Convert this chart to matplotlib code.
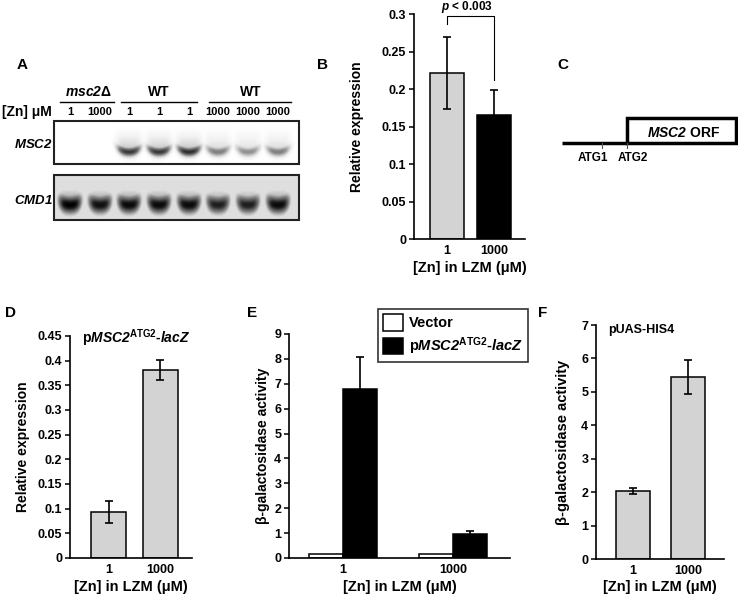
import numpy as np
import matplotlib
matplotlib.use("Agg")
import matplotlib.pyplot as plt
from matplotlib.patches import Rectangle, Patch
from matplotlib.ticker import FuncFormatter

plt.rcParams['font.family'] = ['Liberation Sans', 'DejaVu Sans']
plt.rcParams['font.weight'] = 'bold'
plt.rcParams['axes.labelweight'] = 'bold'
plt.rcParams['mathtext.fontset'] = 'custom'
plt.rcParams['mathtext.rm'] = 'Liberation Sans:bold'
plt.rcParams['mathtext.it'] = 'Liberation Sans:italic:bold'
plt.rcParams['mathtext.bf'] = 'Liberation Sans:bold'
# \mathsf used as bold italic that keeps digits italic too
plt.rcParams['mathtext.sf'] = 'Liberation Sans:italic:bold'

# ---- data ----
# panel A (northern blot), band intensity per lane (0..1)
lane_zn = ['1', '1000', '1', '1', '1', '1000', '1000', '1000']
msc2_band = [0.0, 0.0, 0.82, 0.82, 0.85, 0.58, 0.52, 0.58]
cmd1_band = [1.0, 0.95, 0.97, 0.97, 0.97, 0.9, 0.9, 0.97]

# panel B
b_labels = ['1', '1000']
b_vals = [0.221, 0.165]
b_err = [0.048, 0.034]

# panel D
d_labels = ['1', '1000']
d_vals = [0.093, 0.381]
d_err = [0.022, 0.021]

# panel E
e_labels = ['1', '1000']
e_vector = [0.15, 0.15]
e_lacz = [6.78, 0.97]
e_lacz_err = [1.29, 0.10]

# panel F
f_labels = ['1', '1000']
f_vals = [2.03, 5.45]
f_err = [0.10, 0.50]

W, H = 738, 596
fig = plt.figure(figsize=(W / 100, H / 100), dpi=100)

def add_ax(x0, y0, x1, y1):
    return fig.add_axes([x0 / W, 1 - y1 / H, (x1 - x0) / W, (y1 - y0) / H])

def fxy(x, y):
    return x / W, 1 - y / H

# overlay axes in pixel coords for blot, diagram, panel letters
ov = fig.add_axes([0, 0, 1, 1])
ov.set_facecolor('none')
ov.axis('off')

# ---- panel A ----
lane_x = [70, 100, 129, 159, 189, 218, 248, 278]
gx0, gx1 = 54, 299

def blot(signal, y0, y1, core, sig, smear_top, smear_amp, bg):
    xs = np.arange(gx0, gx1) + 0.5
    ys = np.arange(y0, y1) + 0.5
    X, Y = np.meshgrid(xs, ys)
    img = np.full(X.shape, bg)
    for c, s in zip(lane_x, signal):
        if s <= 0:
            continue
        hx = np.exp(-((X - c) / 12.5) ** 4)
        smile = 0.03 * (X - c) ** 2
        yc = core - smile
        v = np.exp(-((Y - yc) / sig) ** 2)
        sm = smear_amp * np.clip((Y - smear_top) / (yc - smear_top), 0, 1) ** 1.5
        v = np.maximum(v, np.where(Y < yc, sm, 0))
        img = np.maximum(img, s * hx * v)
    return img

msc2_img = blot(msc2_band, 121, 164, 152, 5.0, 125, 0.5, 0.0)
cmd1_img = blot(cmd1_band, 175, 220, 205, 10.0, 177, 0.75, 0.22)
ov.imshow(msc2_img, cmap='Greys', vmin=0, vmax=1, extent=(gx0, gx1, 164, 121),
          interpolation='bilinear', aspect='auto')
ov.imshow(cmd1_img, cmap='Greys', vmin=0, vmax=1, extent=(gx0, gx1, 220, 175),
          interpolation='bilinear', aspect='auto')
ov.add_patch(Rectangle((gx0, 121), gx1 - gx0, 43, fill=False, lw=1.5, ec='#222222'))
ov.add_patch(Rectangle((gx0, 175), gx1 - gx0, 45, fill=False, lw=1.5, ec='#222222'))
ov.set_xlim(0, W)
ov.set_ylim(H, 0)

for x, lab in zip(lane_x, lane_zn):
    ov.text(x, 112, lab, ha='center', va='center', fontsize=8)
ov.text(27, 112, '[Zn] μM', ha='center', va='center', fontsize=10)
ov.text(88, 92, r'$\mathsf{msc2}$Δ', ha='center', va='center', fontsize=10)
ov.text(159, 92, 'WT', ha='center', va='center', fontsize=10)
ov.text(251, 92, 'WT', ha='center', va='center', fontsize=10)
for a, b in [(60, 114), (121, 197), (209, 291)]:
    ov.plot([a, b], [102, 102], color='black', lw=1)
ov.text(33, 144, r'$\mathsf{MSC2}$', ha='center', va='center', fontsize=9.5)
ov.text(33, 200, r'$\mathsf{CMD1}$', ha='center', va='center', fontsize=9.5)

# ---- panel C ----
ov.plot([562, 627], [143, 143], color='black', lw=2.5, solid_capstyle='butt')
ov.add_patch(Rectangle((627, 117.5), 109, 25.5, fill=False, lw=2.5, ec='black'))
ov.plot([602, 602], [143, 148], color='#555555', lw=0.8)
ov.plot([627, 627], [143, 148], color='#555555', lw=0.8)
ov.text(593, 158, 'ATG1', ha='center', va='center', fontsize=8.5)
ov.text(633, 158, 'ATG2', ha='center', va='center', fontsize=8.5)
ov.text(684, 133, r'$\mathsf{MSC2}$ ORF', ha='center', va='center', fontsize=10)

# panel letters
for lab, x, y in [('A', 22, 65), ('B', 323, 65), ('C', 563, 65),
                  ('D', 10, 313), ('E', 252, 313), ('F', 543, 313)]:
    ov.text(x, y, lab, ha='center', va='center', fontsize=11)

def style(ax, ymax, ystep, ylab_x, ylab, ylab_size, xlab_y, xlab):
    for s in ['top', 'right']:
        ax.spines[s].set_visible(False)
    for s in ['left', 'bottom']:
        ax.spines[s].set_linewidth(1.2)
    ax.set_ylim(0, ymax)
    ax.set_yticks(np.arange(0, ymax + ystep / 2, ystep))
    ax.yaxis.set_major_formatter(FuncFormatter(lambda v, p: '%g' % round(v, 3)))
    ax.tick_params(axis='y', labelsize=9, width=1.1, length=3.5, pad=2)
    ax.tick_params(axis='x', labelsize=9, length=0, pad=4)
    pos = ax.get_position()
    ax.set_ylabel(ylab, fontsize=ylab_size, va='center')
    ax.yaxis.set_label_coords(ylab_x / W, pos.y0 + pos.height / 2,
                              transform=fig.transFigure)
    ax.set_xlabel(xlab, fontsize=10.5, va='center')
    ax.xaxis.set_label_coords(pos.x0 + pos.width / 2, 1 - xlab_y / H,
                              transform=fig.transFigure)

ekw = dict(ecolor='black', elinewidth=1.2, capsize=3, capthick=1.2)
xlab = '[Zn] in LZM (μM)'
lacz = r'p$\mathsf{MSC2}^{\mathrm{ATG2}}$-$\mathsf{lacZ}$'

# ---- panel B ----
axb = add_ax(414, 14, 525, 239)
xb = np.arange(len(b_vals))
axb.bar(xb, b_vals, width=0.72, color=['#d3d3d3', 'black'], edgecolor='black',
        lw=1.1, yerr=b_err, error_kw=ekw)
axb.set_xlim(-0.70, 1.66)
axb.set_xticks(xb, b_labels)
style(axb, 0.3, 0.05, 357, 'Relative expression', 10, 268, xlab)
axb.plot([0, 0, 1, 1], [0.287, 0.298, 0.298, 0.212], color='black', lw=0.8,
         clip_on=False)
axb.text(0.43, 0.310, r'$\mathsf{p}$ < 0.003', ha='center', va='center',
         fontsize=8.5, clip_on=False)

# ---- panel D ----
axd = add_ax(70, 336, 192, 558)
xd = np.arange(len(d_vals))
axd.bar(xd, d_vals, width=0.67, color='#d3d3d3', edgecolor='black', lw=1.1,
        yerr=d_err, error_kw=ekw)
axd.set_xlim(-0.745, 1.61)
axd.set_xticks(xd, d_labels)
style(axd, 0.45, 0.05, 23, 'Relative expression', 10, 587, xlab)
axd.text(*fxy(82, 338), lacz, transform=fig.transFigure,
         ha='left', va='center', fontsize=10)

# ---- panel E ----
axe = add_ax(289, 334, 510, 558)
xe = np.arange(len(e_lacz))
bw = 0.309
axe.bar(xe - bw / 2, e_vector, width=bw, color='white', edgecolor='black', lw=1.1)
axe.bar(xe + bw / 2, e_lacz, width=bw, color='black', edgecolor='black', lw=1.1,
        yerr=e_lacz_err, error_kw=ekw)
axe.set_xlim(-0.49, 1.52)
axe.set_xticks(xe, e_labels)
style(axe, 9, 1, 263, 'β-galactosidase activity', 10, 587, xlab)
handles = [Patch(fc='white', ec='black', lw=1.1, label='Vector'),
           Patch(fc='black', ec='black', lw=1.1, label=lacz)]
leg = axe.legend(handles=handles, loc='upper right',
                 bbox_to_anchor=fxy(528, 309), bbox_transform=fig.transFigure,
                 prop={'size': 10.5, 'weight': 'bold'}, frameon=True,
                 fancybox=False, borderaxespad=0,
                 handlelength=1.4, handleheight=1.4, handletextpad=0.4,
                 labelspacing=0.3, borderpad=0.35)
leg.get_frame().set_edgecolor('black')
leg.get_frame().set_linewidth(1.2)

# ---- panel F ----
axf = add_ax(596, 325, 724, 559)
xf = np.arange(len(f_vals))
axf.bar(xf, f_vals, width=0.61, color='#d3d3d3', edgecolor='black', lw=1.1,
        yerr=f_err, error_kw=ekw)
axf.set_xlim(-0.66, 1.64)
axf.set_xticks(xf, f_labels)
style(axf, 7, 1, 563, 'β-galactosidase activity', 10.5, 587, xlab)
axf.text(*fxy(641, 330), 'pUAS-HIS4', transform=fig.transFigure,
         ha='center', va='center', fontsize=9)

fig.savefig('out.png', dpi=100)
